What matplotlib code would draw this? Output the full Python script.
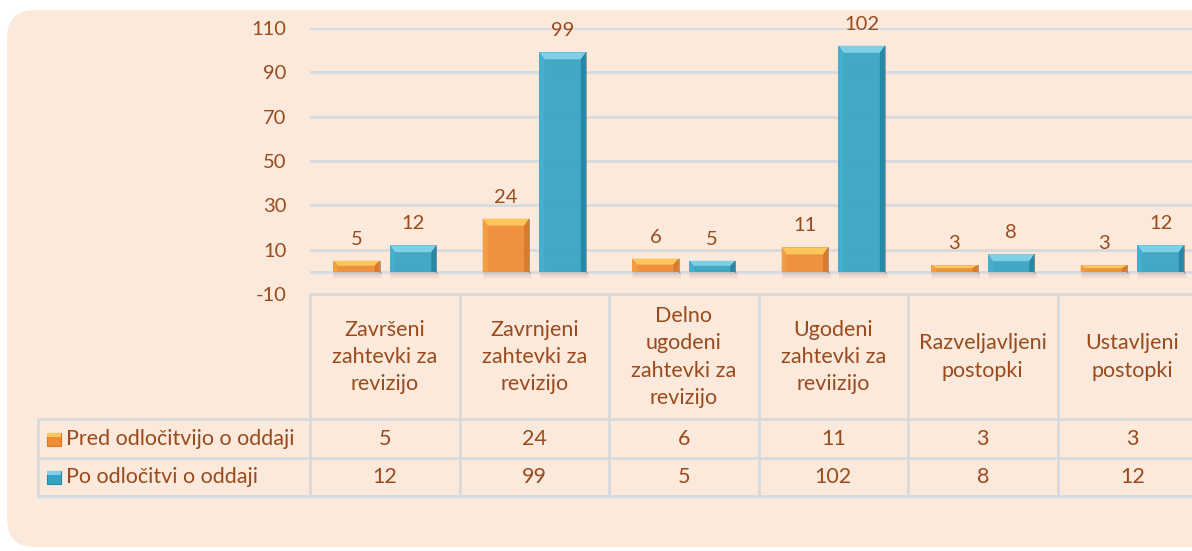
import matplotlib.pyplot as plt
import matplotlib.transforms as mtransforms
from matplotlib.patches import FancyBboxPatch, Rectangle, Polygon

plt.rcParams['font.family'] = ['Lato', 'DejaVu Sans']
plt.rcParams['axes.unicode_minus'] = False

# podatki
kategorije = ['Završeni\nzahtevki za\nrevizijo',
              'Zavrnjeni\nzahtevki za\nrevizijo',
              'Delno\nugodeni\nzahtevki za\nrevizijo',
              'Ugodeni\nzahtevki za\nreviizijo',
              'Razveljavljeni\npostopki',
              'Ustavljeni\npostopki']
pred = [5, 24, 6, 11, 3, 3]
po = [12, 99, 5, 102, 8, 12]
serije = ['Pred odločitvijo o oddaji', 'Po odločitvi o oddaji']
y_ticks = [-10, 10, 30, 50, 70, 90, 110]

# barve: glavna, zgornji rob, levi rob, desni rob
barve_pred = ('#EF8C36', '#FBC65A', '#F39E44', '#D97A2C')
barve_po = ('#35A3C3', '#7FCFE7', '#45AFCF', '#2688A6')
txt = '#9A4A1C'
mreza = '#D8DADD'
ozadje = '#FBEADC'

W, H = 1192, 551
fig = plt.figure(figsize=(W / 100, H / 100), dpi=100)
fig.patch.set_facecolor('white')


def py(ypx):
    # piksli od vrha -> palci od dna
    return (H - ypx) / 100


# zaobljeno ozadje
bg = FancyBboxPatch((0.07, py(547)), 12.5, py(10) - py(547),
                    boxstyle='round,pad=0,rounding_size=0.28',
                    fc=ozadje, ec='none', transform=fig.dpi_scale_trans)
bg.set_zorder(-5)
fig.add_artist(bg)

ax = fig.add_axes([310 / W, (H - 294) / H, (1207 - 310) / W, 266 / H])
ax.set_zorder(2)
ax.set_facecolor('none')
ax.set_xlim(-0.5, 5.5)
ax.set_ylim(-10, 110)
for s in ax.spines.values():
    s.set_visible(False)
ax.set_xticks([])
ax.set_yticks(y_ticks)
ax.tick_params(axis='y', length=0, pad=17, labelsize=14.5, labelcolor=txt)

for v in y_ticks[1:] + [0]:
    ax.axhline(v, color=mreza, lw=2, zorder=1)

sirina = 0.31
odmik = 0.19
pos = list(range(len(kategorije)))
st_px = (1207 - 310) / len(kategorije)   # piksli na kategorijo
enota_px = 266 / 120                      # piksli na enoto


def bevel(ax, bars, barve):
    main, top, left, right = barve
    for b in bars:
        x0 = b.get_x()
        x1 = x0 + b.get_width()
        h = b.get_height()
        bx = 5 / st_px
        by = min(7 / enota_px, h / 2.2)
        # senca
        for k, a in enumerate([0.10, 0.10, 0.12]):
            ax.add_patch(Rectangle((x0 + 0.01 - k * 0.004, -1.2 - k * 0.7), (x1 - x0) + k * 0.008, 1.2 + k * 0.7,
                                   fc='#9A8F88', ec='none', alpha=a, zorder=2))
        ax.add_patch(Polygon([(x0, h), (x1, h), (x1 - bx, h - by), (x0 + bx, h - by)],
                             fc=top, ec='none', zorder=4))
        ax.add_patch(Polygon([(x0, 0), (x0, h), (x0 + bx, h - by), (x0 + bx, 0)],
                             fc=left, ec='none', zorder=4))
        ax.add_patch(Polygon([(x1, 0), (x1, h), (x1 - bx, h - by), (x1 - bx, 0)],
                             fc=right, ec='none', zorder=4))
        ax.plot([x1, x1], [0, h], color='#3A3A3A', lw=0.7, alpha=0.45, zorder=5)


b1 = ax.bar([p - odmik for p in pos], pred, sirina, color=barve_pred[0], alpha=0.95, zorder=3)
b2 = ax.bar([p + odmik for p in pos], po, sirina, color=barve_po[0], alpha=0.93, zorder=3)
bevel(ax, b1, barve_pred)
bevel(ax, b2, barve_po)

for bars, vals in [(b1, pred), (b2, po)]:
    for b, v in zip(bars, vals):
        ax.annotate(str(v), (b.get_x() + b.get_width() / 2, v), xytext=(0, 11.5),
                    textcoords='offset points', ha='center', va='baseline',
                    fontsize=14.5, color=txt)

# tabela s podatki
tr = mtransforms.blended_transform_factory(ax.transData, fig.dpi_scale_trans)
x_levo = -0.5 - (310 - 38) / st_px
x_desno = 5.5
kw = dict(color=mreza, lw=2, transform=tr, clip_on=False, zorder=1)
ax.plot([-0.5, x_desno], [py(294), py(294)], **kw)
for ypx in [419, 458, 496]:
    ax.plot([x_levo, x_desno], [py(ypx), py(ypx)], **kw)
for i in range(len(kategorije) + 1):
    ax.plot([i - 0.5, i - 0.5], [py(294), py(496)], **kw)
ax.plot([x_levo, x_levo], [py(419), py(496)], **kw)

fs_tab = 15.5
for i, k in enumerate(kategorije):
    ax.text(i, py(357), k, transform=tr, ha='center', va='center', multialignment='center',
            fontsize=fs_tab, color=txt, linespacing=1.45, clip_on=False)
    ax.text(i, py(439), str(pred[i]), transform=tr, ha='center', va='center',
            fontsize=fs_tab, color=txt, clip_on=False)
    ax.text(i, py(477), str(po[i]), transform=tr, ha='center', va='center',
            fontsize=fs_tab, color=txt, clip_on=False)

x_mark = -0.5 - (310 - 47) / st_px
x_lab = -0.5 - (310 - 66) / st_px
mw = 14 / st_px
for ypx, ime, barve in [(439, serije[0], barve_pred), (477, serije[1], barve_po)]:
    ax.add_patch(Rectangle((x_mark, py(ypx) - 0.065), mw, 0.13, fc=barve[0], ec=barve[3], lw=0.8,
                           transform=tr, clip_on=False, zorder=3))
    ax.add_patch(Rectangle((x_mark, py(ypx) + 0.02), mw, 0.045, fc=barve[1], ec='none',
                           transform=tr, clip_on=False, zorder=4))
    ax.text(x_lab, py(ypx), ime, transform=tr, ha='left', va='center',
            fontsize=fs_tab, color=txt, clip_on=False)

fig.savefig('out.png', dpi=100, facecolor='white')
